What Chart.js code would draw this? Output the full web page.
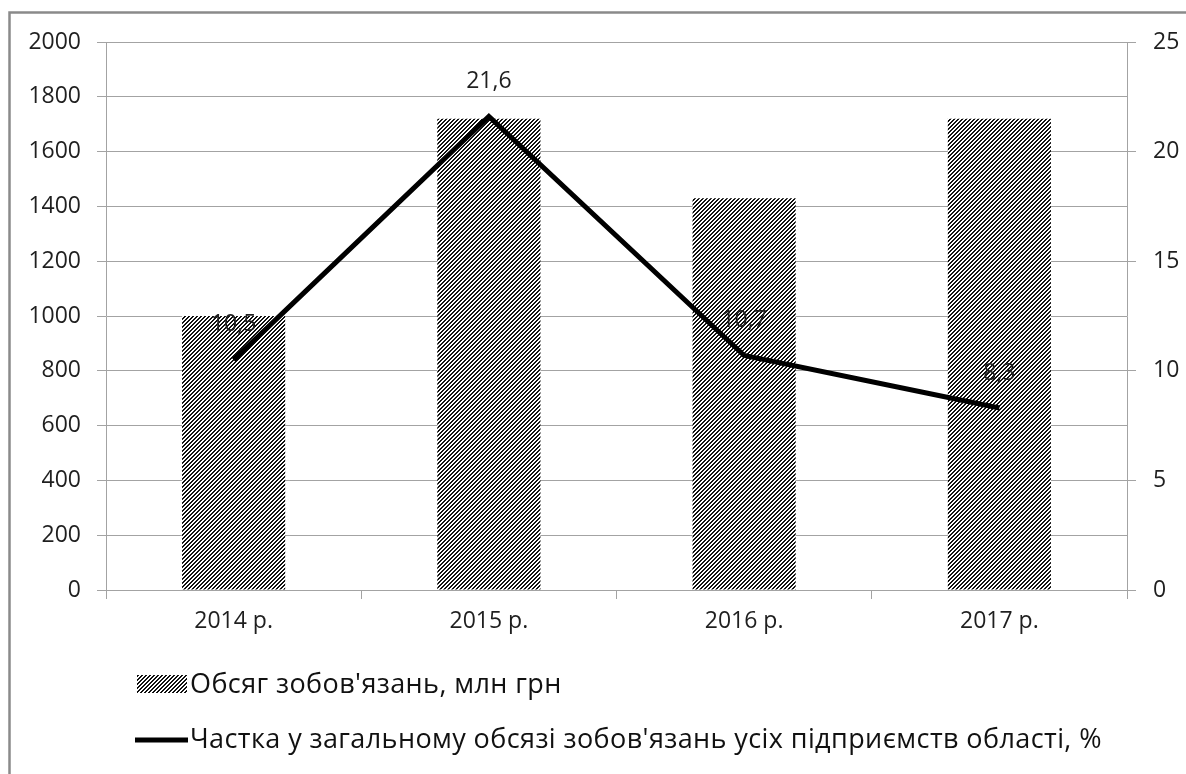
<!DOCTYPE html>
<html lang="uk">
<head>
<meta charset="utf-8">
<title>Обсяг зобов'язань</title>
<script src="https://cdn.jsdelivr.net/npm/chart.js@4.4.1/dist/chart.umd.min.js"></script>
<style>
  html, body { margin: 0; padding: 0; background: #fff; }
  #wrap { width: 1186px; height: 774px; }
</style>
</head>
<body>
<div id="wrap"><canvas id="chartZobov" width="1186" height="774"></canvas></div>
<script>
// дані з діаграми
const roky = ["2014 р.", "2015 р.", "2016 р.", "2017 р."];
const obsyag = [1000, 1720, 1430, 1720];       // млн грн, ліва вісь
const chastka = [10.5, 21.6, 10.7, 8.3];        // %, права вісь
const nazvaObsyag = "Обсяг зобов'язань, млн грн";
const nazvaChastka = "Частка у загальному обсязі зобов'язань усіх підприємств області, %";

const shryft = "'Open Sans'";
const sire = "#a3a3a3";
const tekst = "#1f1f1f";

// штрихування для стовпців (чіткі пікселі, смуги "/")
function makeHatch() {
  const c = document.createElement("canvas");
  c.width = 4; c.height = 4;
  const g = c.getContext("2d");
  g.fillStyle = "#fff";
  g.fillRect(0, 0, 4, 4);
  g.fillStyle = "#111";
  for (let y = 0; y < 4; y++) {
    for (let x = 0; x < 4; x++) {
      if ((x + y) % 4 < 2) g.fillRect(x, y, 1, 1);
    }
  }
  return g.createPattern(c, "repeat");
}

// рамка навколо діаграми
const ramka = {
  id: "ramka",
  beforeDraw(chart) {
    const ctx = chart.ctx;
    ctx.save();
    ctx.fillStyle = "#fff";
    ctx.fillRect(0, 0, chart.width, chart.height);
    ctx.strokeStyle = "#8a8a8a";
    ctx.lineWidth = 2.5;
    ctx.strokeRect(9.5, 12.5, chart.width + 20, chart.height + 20);
    ctx.restore();
  }
};

// підписи значень над лінією
const podpysy = {
  id: "podpysy",
  afterDatasetsDraw(chart) {
    const ctx = chart.ctx;
    const meta = chart.getDatasetMeta(1);
    ctx.save();
    ctx.font = "23px " + shryft;
    ctx.fillStyle = tekst;
    ctx.textAlign = "center";
    ctx.textBaseline = "middle";
    meta.data.forEach((pt, i) => {
      ctx.fillText(String(chastka[i]).replace(".", ","), pt.x, pt.y - 35);
    });
    ctx.restore();
  }
};

// легенда під діаграмою, у два рядки
const legenda = {
  id: "legenda",
  afterDraw(chart) {
    const ctx = chart.ctx;
    const ds = chart.data.datasets;
    ctx.save();
    ctx.fillStyle = ds[0].backgroundColor;
    ctx.fillRect(137, 675, 50, 18);
    ctx.strokeStyle = "#000";
    ctx.lineWidth = 5;
    ctx.beginPath();
    ctx.moveTo(135, 740);
    ctx.lineTo(188, 740);
    ctx.stroke();
    ctx.font = "27px " + shryft;
    ctx.letterSpacing = "0.4px";
    ctx.fillStyle = "#111";
    ctx.textAlign = "left";
    ctx.textBaseline = "middle";
    ctx.fillText(ds[0].label, 190, 685);
    ctx.fillText(ds[1].label, 190, 740);
    ctx.restore();
  }
};

function initChart() {
  const ctx = document.getElementById("chartZobov").getContext("2d");
  const tickFont = { family: shryft, size: 23 };
  new Chart(ctx, {
    type: "bar",
    data: {
      labels: roky,
      datasets: [{
        label: nazvaObsyag,
        data: obsyag,
        backgroundColor: makeHatch(),
        borderWidth: 0,
        barPercentage: 0.404,
        categoryPercentage: 1,
        yAxisID: "y",
        order: 2
      }, {
        type: "line",
        label: nazvaChastka,
        data: chastka,
        borderColor: "#000",
        borderWidth: 5,
        pointRadius: 0,
        tension: 0,
        yAxisID: "y1",
        order: 1
      }]
    },
    options: {
      responsive: false,
      animation: false,
      devicePixelRatio: 1,
      layout: { padding: { top: 42, left: 0, right: 0, bottom: 0 } },
      plugins: { legend: { display: false }, tooltip: { enabled: false } },
      scales: {
        x: {
          offset: true,
          grid: { offset: true, drawOnChartArea: false, tickLength: 9, color: sire },
          border: { color: sire },
          ticks: { font: tickFont, color: tekst, padding: 9 },
          afterFit(s) { s.height = 184; }
        },
        y: {
          position: "left",
          min: 0, max: 2000,
          ticks: { stepSize: 200, font: tickFont, color: tekst, padding: 16, callback: v => String(v) },
          grid: { color: sire, tickLength: 9 },
          border: { color: sire },
          afterFit(s) { s.width = 106; }
        },
        y1: {
          position: "right",
          min: 0, max: 25,
          ticks: { stepSize: 5, font: tickFont, color: tekst, padding: 17, callback: v => String(v) },
          grid: { drawOnChartArea: false, color: sire, tickLength: 9 },
          border: { color: sire },
          afterFit(s) { s.width = 59; }
        }
      }
    },
    plugins: [ramka, podpysy, legenda]
  });
}

window.onload = () => {
  initChart();
};
</script>
</body>
</html>
